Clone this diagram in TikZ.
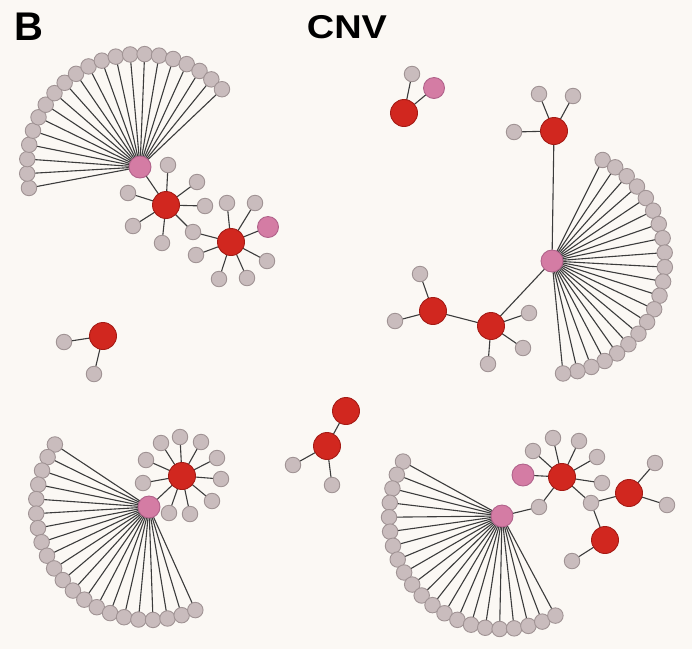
\documentclass[tikz,border=0pt]{standalone}
\usepackage{fontspec}
\setmainfont{Liberation Sans}
\pgfdeclarelayer{bg}
\pgfdeclarelayer{edges}
\pgfsetlayers{bg,edges,main}
\definecolor{bgc}{HTML}{FBF8F4}
\definecolor{grayF}{HTML}{C9BCBD}
\definecolor{grayB}{HTML}{A09394}
\definecolor{redF}{HTML}{D1271F}
\definecolor{redB}{HTML}{A51B15}
\definecolor{pinkF}{HTML}{D47CA4}
\definecolor{pinkB}{HTML}{B0628A}
\definecolor{edgec}{HTML}{3C3C3C}
\begin{document}
\begin{tikzpicture}[x=1pt,y=-1pt,
  gnode/.style={circle,draw=grayB,fill=grayF,line width=0.9pt,minimum size=15.5pt,inner sep=0pt},
  rnode/.style={circle,draw=redB,fill=redF,line width=0.9pt,minimum size=27pt,inner sep=0pt},
  pnode/.style={circle,draw=pinkB,fill=pinkF,line width=0.9pt,minimum size=22pt,inner sep=0pt},
  link/.style={draw=edgec,line width=1.1pt},
  ttl/.style={inner sep=0pt,font=\bfseries}]
\begin{pgfonlayer}{bg}
  \fill[bgc] (0,0) rectangle (692,649);
\end{pgfonlayer}
\useasboundingbox (0,0) rectangle (692,649);

% titles
\node[ttl,font=\bfseries\fontsize{40}{40}\selectfont] (tB) at (29,27) {B};
\node[ttl,font=\bfseries\fontsize{33}{33}\selectfont] (tC) at (347,27) {\scalebox{1.15}[1]{CNV}};

% ---------- fans ----------
\node[pnode] (h1) at (140,167) {};
\foreach \i in {0,...,20} {\path (h1.center) ++ ({169.3+7.36*\i}:113) node[gnode] (fa\i) {};}
\node[pnode] (h2) at (552,261) {};
\foreach \i in {0,...,20} {\path (h2.center) ++ ({-63.4+7.39*\i}:113) node[gnode] (fb\i) {};}
\node[pnode] (h3) at (149,507) {};
\foreach \i in {0,...,20} {\path (h3.center) ++ ({213.6-7.39*\i}:113) node[gnode] (fc\i) {};}
\node[pnode] (h4) at (502,516) {};
\foreach \i in {0,...,20} {\path (h4.center) ++ ({208.8-7.35*\i}:113) node[gnode] (fd\i) {};}

\begin{pgfonlayer}{edges}
\foreach \i in {0,...,20} {
  \draw[link] (h1.center) -- (fa\i.center);
  \draw[link] (h2.center) -- (fb\i.center);
  \draw[link] (h3.center) -- (fc\i.center);
  \draw[link] (h4.center) -- (fd\i.center);
}
\end{pgfonlayer}

% ---------- cluster 1 (top left) ----------
\node[rnode] (r1) at (166,205) {};
\node[rnode] (r2) at (231,242) {};
\node[gnode] (s12) at (193,232) {};
\foreach \n/\x/\y in {a/168/165,b/197/182,c/205/206,d/162/243,e/133/226,f/128/193}
  {\node[gnode] (r1\n) at (\x,\y) {};}
\foreach \n/\x/\y in {a/227/203,b/255/203,c/267/261,d/247/278,e/219/279,f/196/255}
  {\node[gnode] (r2\n) at (\x,\y) {};}
\node[pnode,minimum size=21pt] (p2) at (268,227) {};
\begin{pgfonlayer}{edges}
\draw[link] (h1.center) -- (r1.center);
\foreach \n in {a,b,c,d,e,f} {\draw[link] (r1.center) -- (r1\n.center);}
\foreach \n in {a,b,c,d,e,f} {\draw[link] (r2.center) -- (r2\n.center);}
\draw[link] (r1.center) -- (s12.center) -- (r2.center);
\draw[link] (r2.center) -- (p2.center);
\end{pgfonlayer}

% ---------- cluster 2 (top right) ----------
\node[rnode] (r3) at (404,113) {};
\node[gnode] (r3a) at (412,74) {};
\node[pnode,minimum size=21pt] (p3) at (434,88) {};
\node[rnode] (r4) at (554,131) {};
\foreach \n/\x/\y in {a/539/94,b/573/96,c/514/132}
  {\node[gnode] (r4\n) at (\x,\y) {};}
\node[rnode] (r5) at (491,326) {};
\foreach \n/\x/\y in {a/529/313,b/523/348,c/488/364}
  {\node[gnode] (r5\n) at (\x,\y) {};}
\node[rnode] (r6) at (433,311) {};
\foreach \n/\x/\y in {a/420/274,b/395/321}
  {\node[gnode] (r6\n) at (\x,\y) {};}
\begin{pgfonlayer}{edges}
\draw[link] (r3.center) -- (r3a.center);
\draw[link] (r3.center) -- (p3.center);
\foreach \n in {a,b,c} {\draw[link] (r4.center) -- (r4\n.center);}
\draw[link] (r4.center) -- (h2.center);
\draw[link] (h2.center) -- (r5.center);
\foreach \n in {a,b,c} {\draw[link] (r5.center) -- (r5\n.center);}
\draw[link] (r5.center) -- (r6.center);
\foreach \n in {a,b} {\draw[link] (r6.center) -- (r6\n.center);}
\end{pgfonlayer}

% ---------- middle ----------
\node[rnode] (r7) at (103,336) {};
\node[gnode] (r7a) at (64,342) {};
\node[gnode] (r7b) at (94,374) {};
\node[rnode] (r8) at (346,411) {};
\node[rnode] (r9) at (327,446) {};
\node[gnode] (r9a) at (293,465) {};
\node[gnode] (r9b) at (332,485) {};
\begin{pgfonlayer}{edges}
\draw[link] (r7.center) -- (r7a.center);
\draw[link] (r7.center) -- (r7b.center);
\draw[link] (r8.center) -- (r9.center);
\draw[link] (r9.center) -- (r9a.center);
\draw[link] (r9.center) -- (r9b.center);
\end{pgfonlayer}

% ---------- cluster 3 (bottom left) ----------
\node[rnode] (r10) at (182,476) {};
\foreach \n/\x/\y in {a/180/437,b/161/443,c/201/442,d/146/460,e/217/458,f/143/483,g/221/479,h/212/501,i/190/514,j/169/513}
  {\node[gnode] (r10\n) at (\x,\y) {};}
\begin{pgfonlayer}{edges}
\draw[link] (h3.center) -- (r10.center);
\foreach \n in {a,b,c,d,e,f,g,h,i,j} {\draw[link] (r10.center) -- (r10\n.center);}
\end{pgfonlayer}

% ---------- cluster 4 (bottom right) ----------
\node[gnode] (g4) at (539,507) {};
\node[rnode] (r11) at (562,477) {};
\node[pnode] (p4) at (523,475) {};
\foreach \n/\x/\y in {a/533/451,b/553/438,c/579/441,d/597/457,e/602/483}
  {\node[gnode] (r11\n) at (\x,\y) {};}
\node[gnode] (g5) at (591,503) {};
\node[rnode] (r12) at (629,493) {};
\node[rnode] (r13) at (605,540) {};
\node[gnode] (r12a) at (655,463) {};
\node[gnode] (r12b) at (667,505) {};
\node[gnode] (r13a) at (572,561) {};
\begin{pgfonlayer}{edges}
\draw[link] (h4.center) -- (g4.center) -- (r11.center);
\draw[link] (r11.center) -- (p4.center);
\foreach \n in {a,b,c,d,e} {\draw[link] (r11.center) -- (r11\n.center);}
\draw[link] (r11.center) -- (g5.center);
\draw[link] (g5.center) -- (r12.center);
\draw[link] (g5.center) -- (r13.center);
\draw[link] (r12.center) -- (r12a.center);
\draw[link] (r12.center) -- (r12b.center);
\draw[link] (r13.center) -- (r13a.center);
\end{pgfonlayer}
\end{tikzpicture}
\end{document}
